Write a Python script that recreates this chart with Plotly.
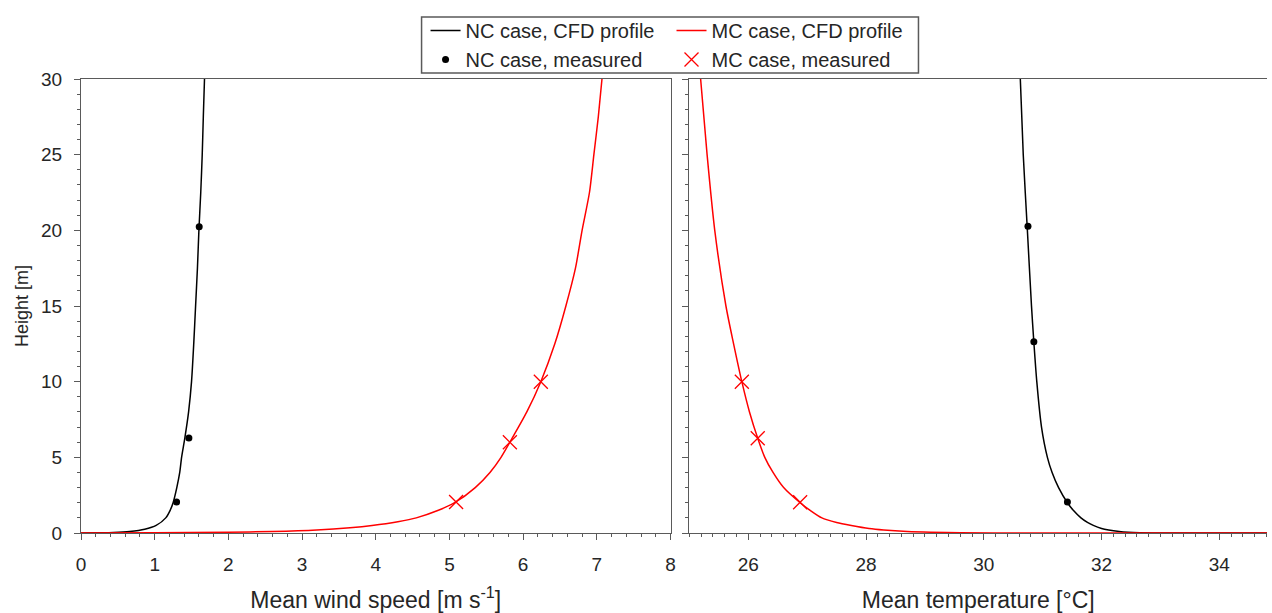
import plotly.graph_objects as go

# ---------------- data ----------------
# NC case, CFD wind profile (wind speed, height)
nc_wind_h = [0, 0.01, 0.03, 0.1, 0.25, 0.5, 1, 1.5, 2, 3, 4, 5, 6.3, 8, 10, 12.5, 15, 17.5, 20, 22.5, 25, 27.5, 30]
nc_wind_u = [0, 0.3, 0.44, 0.66, 0.865, 1.02, 1.15, 1.21, 1.25, 1.30, 1.34, 1.365, 1.41, 1.46, 1.50, 1.53, 1.555, 1.58, 1.60, 1.625, 1.645, 1.66, 1.676]
# MC case, CFD wind profile
mc_wind_h = [0, 0.01, 0.05, 0.1, 0.2, 0.35, 0.5, 0.75, 1, 1.5, 2, 3, 4, 5, 6, 8, 10, 12.5, 15, 17.5, 20, 22.5, 25, 27.5, 30]
mc_wind_u = [0, 1.0, 2.0, 2.6, 3.2, 3.65, 3.95, 4.3, 4.55, 4.85, 5.07, 5.35, 5.55, 5.7, 5.82, 6.05, 6.24, 6.43, 6.58, 6.71, 6.8, 6.9, 6.96, 7.02, 7.07]
# measured wind
nc_meas_wind_u = [1.297, 1.464, 1.604]
nc_meas_wind_h = [2.05, 6.28, 20.24]
mc_meas_wind_u = [5.09, 5.82, 6.24]
mc_meas_wind_h = [2.05, 6.0, 10.0]

# CFD temperature profiles (temperature, height)
nc_temp_h = [30, 25, 20, 15, 12.6, 10, 7, 5, 4, 3, 2, 1.5, 1, 0.7, 0.5, 0.3, 0.2, 0.1, 0.05, 0.02, 0, 0]
nc_temp_t = [30.62, 30.67, 30.74, 30.81, 30.85, 30.90, 30.98, 31.08, 31.16, 31.27, 31.42, 31.52, 31.65, 31.76, 31.86, 32.0, 32.12, 32.3, 32.45, 32.65, 33.0, 35.0]
mc_temp_h = [30, 25, 20, 15, 12.5, 10, 8, 6.26, 5, 4, 3, 2, 1.5, 1, 0.7, 0.5, 0.3, 0.2, 0.1, 0.05, 0.02, 0, 0]
mc_temp_t = [25.19, 25.30, 25.43, 25.62, 25.75, 25.89, 26.02, 26.16, 26.28, 26.42, 26.6, 26.88, 27.05, 27.25, 27.5, 27.75, 28.05, 28.3, 28.7, 29.1, 29.6, 30.5, 35.0]
# measured temperature
nc_meas_temp_t = [31.42, 30.85, 30.75]
nc_meas_temp_h = [2.05, 12.64, 20.27]
mc_meas_temp_t = [26.88, 26.16, 25.89]
mc_meas_temp_h = [2.03, 6.26, 10.0]

legend_names = ["NC case, CFD profile", "NC case, measured", "MC case, CFD profile", "MC case, measured"]

# ---------------- figure ----------------
FONT = "Liberation Sans, Arial, sans-serif"
TXT = "#262626"
AX = "#5a5a5a"
RED = "#ff0000"

fig = go.Figure()

def line(x, y, color, name, show, leg, grp, xa, ya):
    fig.add_trace(go.Scatter(x=x, y=y, mode="lines",
                             line=dict(color=color, width=1.5, shape="spline", smoothing=0.7),
                             name=name, showlegend=show, legend=leg, legendgroup=grp,
                             xaxis=xa, yaxis=ya, hoverinfo="skip"))

def pts(x, y, symbol, size, color, name, show, leg, grp, xa, ya, lw=0):
    fig.add_trace(go.Scatter(x=x, y=y, mode="markers",
                             marker=dict(symbol=symbol, size=size, color=color,
                                         line=dict(color=color, width=lw)),
                             name=name, showlegend=show, legend=leg, legendgroup=grp,
                             xaxis=xa, yaxis=ya, hoverinfo="skip"))

# NC (black)
line(nc_wind_u, nc_wind_h, "black", legend_names[0], True, "legend", "a", "x", "y")
line(nc_temp_t, nc_temp_h, "black", legend_names[0], False, "legend", "a", "x2", "y2")
pts(nc_meas_wind_u, nc_meas_wind_h, "circle", 7, "black", legend_names[1], True, "legend", "a", "x", "y")
pts(nc_meas_temp_t, nc_meas_temp_h, "circle", 7, "black", legend_names[1], False, "legend", "a", "x2", "y2")
# MC (red)
line(mc_wind_u, mc_wind_h, RED, legend_names[2], True, "legend2", "c", "x", "y")
line(mc_temp_t, mc_temp_h, RED, legend_names[2], False, "legend2", "c", "x2", "y2")
pts(mc_meas_wind_u, mc_meas_wind_h, "x-thin", 14, RED, legend_names[3], True, "legend2", "c", "x", "y", lw=1.3)
pts(mc_meas_temp_t, mc_meas_temp_h, "x-thin", 14, RED, legend_names[3], False, "legend2", "c", "x2", "y2", lw=1.3)

W, H = 1272, 613
L, R, T, B = 81, 0, 79, 80
pw = W - L - R
ph = H - T - B

def px2x(p):
    return (p - L) / pw

def py2y(p):
    return (H - B - p) / ph

tickfont = dict(family=FONT, size=19, color=TXT)
titlefont = dict(family=FONT, size=23, color=TXT)
ytitlefont = dict(family=FONT, size=18, color=TXT)

common = dict(showline=True, linecolor=AX, linewidth=1.3, ticks="outside", ticklen=6,
              tickcolor=AX, tickwidth=1.2, showgrid=False, zeroline=False,
              tickfont=tickfont)

fig.update_layout(
    width=W, height=H,
    margin=dict(l=L, r=R, t=T, b=B),
    plot_bgcolor="white", paper_bgcolor="white",
    font=dict(family=FONT, color=TXT),
    xaxis=dict(domain=[0, px2x(673)], range=[0, 8], dtick=1, tick0=0, mirror=True,
               anchor="y",
               minor=dict(dtick=0.2, ticklen=3, tickcolor=AX, ticks="outside", showgrid=False),
               title=dict(text="Mean wind speed [m s<sup>-1</sup>]", font=titlefont, standoff=17),
               ticklabelstandoff=8, **common),
    yaxis=dict(domain=[0, 1], range=[0, 30], dtick=5, tick0=0, mirror=True, anchor="x",
               minor=dict(dtick=1, ticklen=3, tickcolor=AX, ticks="outside", showgrid=False),
               title=dict(text="Height [m]", font=ytitlefont, standoff=7),
               ticklabelstandoff=8, **common),
    xaxis2=dict(domain=[px2x(692), 1], range=[25, 34.81], tickvals=[26, 28, 30, 32, 34],
                mirror=True, anchor="y2",
                minor=dict(tick0=25, dtick=0.2, ticklen=3, tickcolor=AX, ticks="outside", showgrid=False),
                title=dict(text="Mean temperature [°C]", font=titlefont, standoff=17),
                ticklabelstandoff=8, **common),
    yaxis2=dict(domain=[0, 1], range=[0, 30], dtick=5, tick0=0, mirror=False, anchor="x2",
                showticklabels=False,
                minor=dict(dtick=1, ticklen=3, tickcolor=AX, ticks="outside", showgrid=False),
                **common),
    legend=dict(x=px2x(427), y=py2y(11), xanchor="left", yanchor="top",
                bgcolor="rgba(0,0,0,0)", borderwidth=0, tracegroupgap=0,
                traceorder="normal", font=dict(family=FONT, size=20, color=TXT)),
    legend2=dict(x=px2x(674), y=py2y(11), xanchor="left", yanchor="top",
                 bgcolor="rgba(0,0,0,0)", borderwidth=0, tracegroupgap=0,
                 traceorder="normal", font=dict(family=FONT, size=20, color=TXT)),
    shapes=[dict(type="rect", xref="paper", yref="paper",
                 x0=px2x(423), x1=px2x(922), y0=py2y(73), y1=py2y(17),
                 line=dict(color=AX, width=1.5), fillcolor="rgba(0,0,0,0)", layer="above")],
)

fig.write_html("out.html")
